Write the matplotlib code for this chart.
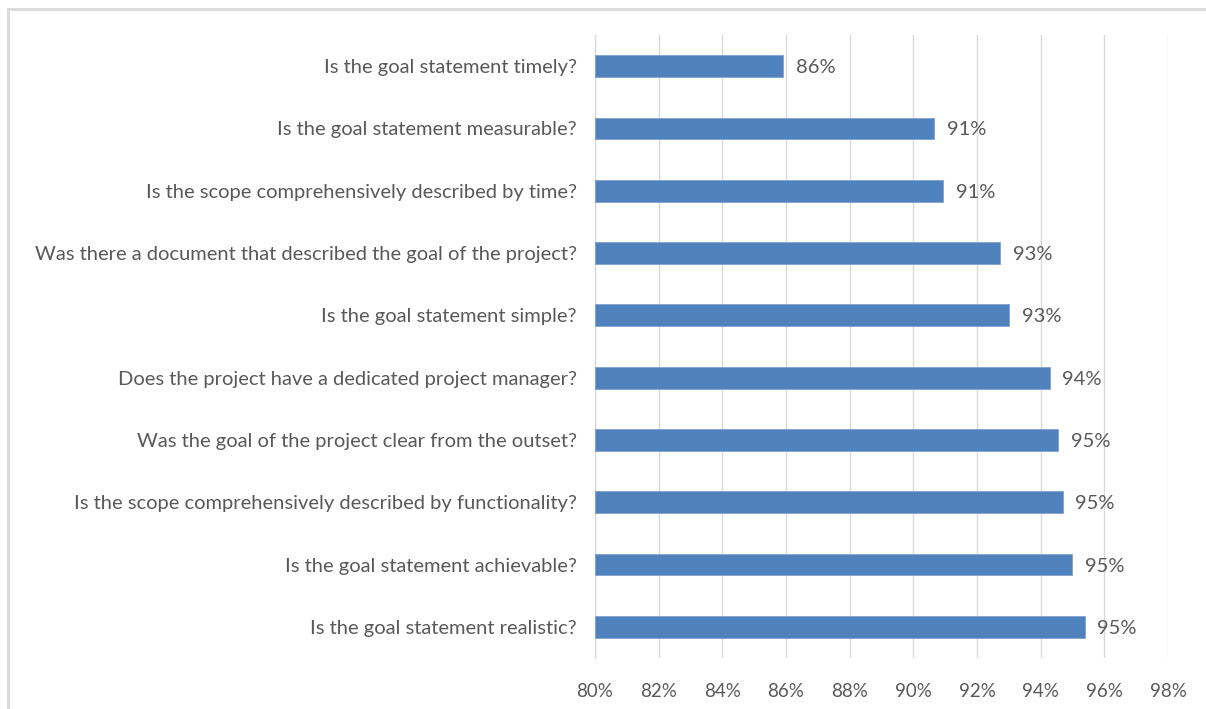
#!/usr/bin/env python

import matplotlib
matplotlib.use('Agg')
from matplotlib import pyplot as plt
from matplotlib.lines import Line2D

questions = [
    'Is the goal statement timely?',
    'Is the goal statement measurable?',
    'Is the scope comprehensively described by time?',
    'Was there a document that described the goal of the project?',
    'Is the goal statement simple?',
    'Does the project have a dedicated project manager?',
    'Was the goal of the project clear from the outset?',
    'Is the scope comprehensively described by functionality?',
    'Is the goal statement achievable?',
    'Is the goal statement realistic?',
]
scores = [85.9, 90.65, 90.94, 92.73, 93.02, 94.28, 94.54, 94.69, 94.98, 95.38]
xticks = [80, 82, 84, 86, 88, 90, 92, 94, 96, 98]

text_color = '#595959'
bar_color = '#4f81bd'
grid_color = '#d9d9d9'


def plot():
    plt.rcParams['font.family'] = ['Lato', 'DejaVu Sans']

    W, H = 1206, 709
    fig = plt.figure(figsize=(W / 100, H / 100), dpi=100)
    ax = fig.add_axes([595 / W, 1 - 658 / H, (1168 - 595) / W, (658 - 35) / H])

    y = list(range(len(questions)))
    ax.barh(y, [s - 80 for s in scores], left=80, height=0.35,
            color=bar_color, edgecolor='#7fa3cf', linewidth=0.6, zorder=3)

    for yi, s in zip(y, scores):
        ax.text(s + 0.4, yi, f'{s:.0f}%', va='center_baseline', ha='left',
                fontsize=14.5, color=text_color)

    ax.set_xlim(80, 98)
    ax.set_ylim(len(questions) - 0.5, -0.5)
    ax.set_xticks(xticks)
    ax.set_xticklabels([f'{t}%' for t in xticks])
    ax.set_yticks(y)
    ax.set_yticklabels(questions)

    ax.grid(axis='x', color=grid_color, linewidth=1, zorder=0)
    for side in ['top', 'right', 'bottom']:
        ax.spines[side].set_visible(False)
    ax.spines['left'].set_color(grid_color)
    ax.spines['left'].set_linewidth(1)

    ax.tick_params(axis='both', length=0, labelcolor=text_color)
    ax.tick_params(axis='x', pad=18, labelsize=13.5)
    ax.tick_params(axis='y', pad=13, labelsize=14.5)
    for lbl in ax.get_yticklabels():
        lbl.set_verticalalignment('center_baseline')

    # chart frame (only top and left edges visible in the crop)
    fig.add_artist(Line2D([8 / W, 1], [1 - 9 / H, 1 - 9 / H],
                          color='#d9d9d9', linewidth=2, transform=fig.transFigure))
    fig.add_artist(Line2D([8 / W, 8 / W], [0, 1 - 9 / H],
                          color='#d9d9d9', linewidth=2, transform=fig.transFigure))

    fig.savefig('out.png', dpi=100)
    plt.close(fig)


def main():
    plot()


if __name__ == '__main__':
    main()
